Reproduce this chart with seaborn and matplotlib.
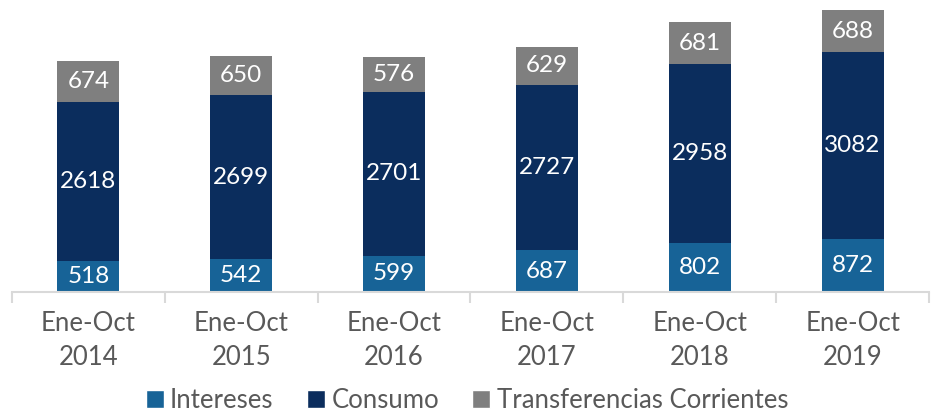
import numpy as np
import pandas as pd
import matplotlib.pyplot as plt
import seaborn as sns
from matplotlib.patches import Patch

# Datos
periodos = ['Ene-Oct\n2014', 'Ene-Oct\n2015', 'Ene-Oct\n2016',
            'Ene-Oct\n2017', 'Ene-Oct\n2018', 'Ene-Oct\n2019']
intereses = [518, 542, 599, 687, 802, 872]
consumo = [2618, 2699, 2701, 2727, 2958, 3082]
transferencias = [674, 650, 576, 629, 681, 688]

series = ['Intereses', 'Consumo', 'Transferencias Corrientes']
colores = ['#176397', '#0b2d5d', '#7f7f7f']

sns.set_style('white')
plt.rcParams['font.family'] = ['Lato', 'DejaVu Sans']

fig = plt.figure(figsize=(9.34, 4.17), dpi=100)
ax = fig.add_axes([12 / 934, 1 - 292 / 417, 917 / 934, 291.4 / 417])

base = np.zeros(len(periodos))
for nombre, valores, color in zip(series, [intereses, consumo, transferencias], colores):
    sns.barplot(x=periodos, y=valores, bottom=base, color=color, width=0.405,
                saturation=1, linewidth=0, ax=ax)
    cont = ax.containers[-1]
    ax.bar_label(cont, labels=[str(v) for v in valores], label_type='center',
                 color='white', fontsize=17.5)
    base = base + np.array(valores)

ax.set_xlim(-0.5, 5.5)
ax.set_ylim(0, 4800)
ax.set_yticks([])
for s in ['top', 'right', 'left']:
    ax.spines[s].set_visible(False)
ax.spines['bottom'].set_color('#d9d9d9')
ax.spines['bottom'].set_linewidth(1.5)

ax.set_xticks(np.arange(-0.5, 6, 1), minor=True)
ax.tick_params(axis='x', which='minor', length=8, width=1.5, color='#d9d9d9', bottom=True)
ax.tick_params(axis='x', which='major', length=0, labelsize=18.5, labelcolor='#595959', pad=14)
for t in ax.get_xticklabels():
    t.set_linespacing(1.45)

handles = [Patch(facecolor=c, label=n) for n, c in zip(series, colores)]
fig.legend(handles=handles, loc='lower center', bbox_to_anchor=(0.5, -0.045), ncol=3,
           frameon=False, fontsize=18.5, labelcolor='#595959', handlelength=0.7,
           handleheight=0.7, handletextpad=0.25, columnspacing=1.3)

fig.savefig('out.png', dpi=100)
